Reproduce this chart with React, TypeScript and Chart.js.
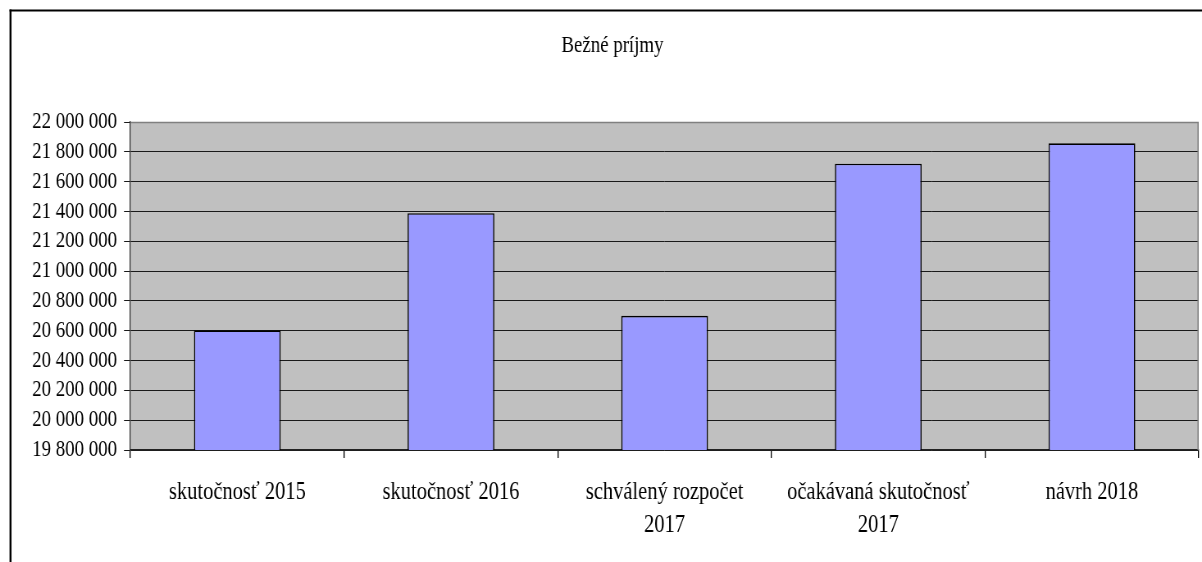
import React, { useEffect, useRef } from "react";
import { Chart, registerables } from "chart.js";

Chart.register(...registerables);

const title = "Bežné príjmy";
const categories: (string | string[])[] = [
  "skutočnosť 2015",
  "skutočnosť 2016",
  ["schválený rozpočet", "2017"],
  ["očakávaná skutočnosť", "2017"],
  "návrh 2018",
];
const values = [20603000, 21388000, 20700000, 21720000, 21857000];
const yMin = 19800000;
const yMax = 22000000;
const yStep = 200000;

// horizontal condensation of the reference's typeface
const S = 0.82;
const DISPLAY_W = 1202;
const DISPLAY_H = 562;
const W = Math.round(DISPLAY_W / S);

const FONT = "'Liberation Serif', 'Times New Roman', serif";

const fmt = (v: number) => String(Math.round(v)).replace(/\B(?=(\d{3})+(?!\d))/g, " ");

const framePlugin = {
  id: "frame",
  beforeDraw(chart: any) {
    const c = chart.ctx;
    c.save();
    c.fillStyle = "#ffffff";
    c.fillRect(0, 0, chart.width, chart.height);
    c.fillStyle = "#000000";
    c.fillRect(9.5 / S, 9.5, 2 / S, chart.height);
    c.fillRect(9.5 / S, 9.5, chart.width, 2);
    const a = chart.chartArea;
    c.fillStyle = "#C0C0C0";
    c.fillRect(a.left, a.top, a.right - a.left, a.bottom - a.top);
    c.restore();
  },
  beforeDatasetsDraw(chart: any) {
    const c = chart.ctx;
    const a = chart.chartArea;
    c.save();
    c.strokeStyle = "#808080";
    c.lineWidth = 1.5;
    c.beginPath();
    c.moveTo(a.left, a.top + 0.5);
    c.lineTo(a.right, a.top + 0.5);
    c.moveTo(a.right - 0.8, a.top);
    c.lineTo(a.right - 0.8, a.bottom);
    c.stroke();
    c.restore();
  },
  afterDraw(chart: any) {
    const c = chart.ctx;
    c.save();
    c.fillStyle = "#000";
    c.font = `23px ${FONT}`;
    c.textAlign = "center";
    c.textBaseline = "middle";
    c.fillText(title, 612.5 / S, 46);
    c.restore();
  },
};

export default function App() {
  const ref = useRef<HTMLCanvasElement | null>(null);

  useEffect(() => {
    if (!ref.current) return;
    const chart = new Chart(ref.current, {
      type: "bar",
      data: {
        labels: categories,
        datasets: [
          {
            data: values,
            backgroundColor: "#9999FF",
            borderColor: "#000000",
            borderWidth: 1.6,
            barPercentage: 0.406,
            categoryPercentage: 1,
          },
        ],
      },
      options: {
        responsive: false,
        devicePixelRatio: 1,
        animation: false,
        layout: { padding: { left: 0, right: 4, top: 122, bottom: 0 } },
        plugins: {
          legend: { display: false },
          title: { display: false },
          tooltip: { enabled: false },
        },
        scales: {
          x: {
            offset: true,
            grid: {
              display: true,
              offset: true,
              drawOnChartArea: false,
              drawTicks: true,
              tickLength: 8,
              color: "#000",
              lineWidth: 1.3,
            },
            border: { display: true, color: "#222", width: 1.6 },
            ticks: {
              color: "#000",
              font: { family: FONT, size: 25, lineHeight: 1.32 },
              maxRotation: 0,
              autoSkip: false,
              padding: 18,
            },
            afterFit(scale: any) {
              scale.height = DISPLAY_H - 450;
            },
          },
          y: {
            min: yMin,
            max: yMax,
            grid: {
              color: "#1a1a1a",
              lineWidth: 1,
              tickLength: 6.5 / S,
              drawTicks: true,
            },
            border: { display: true, color: "#333", width: 1.3 },
            ticks: {
              stepSize: yStep,
              autoSkip: false,
              color: "#000",
              font: { family: FONT, size: 23 },
              padding: 7 / S,
              callback: (v: any) => fmt(Number(v)),
            },
            afterFit(scale: any) {
              scale.width = 130.5 / S;
            },
          },
        },
      },
      plugins: [framePlugin],
    });
    return () => chart.destroy();
  }, []);

  return (
    <canvas
      ref={ref}
      width={W}
      height={DISPLAY_H}
      style={{
        position: "fixed",
        left: 0,
        top: 0,
        width: `${DISPLAY_W}px`,
        height: `${DISPLAY_H}px`,
        display: "block",
      }}
    />
  );
}
